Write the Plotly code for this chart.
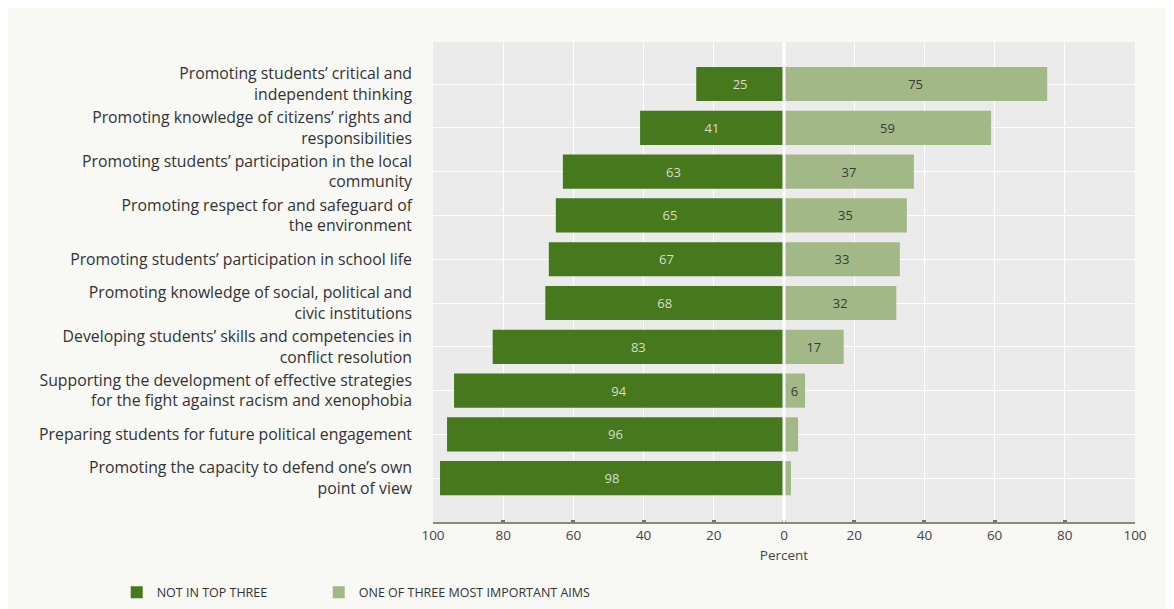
import plotly.graph_objects as go

categories = [
    "Promoting students’ critical and<br>independent thinking",
    "Promoting knowledge of citizens’ rights and<br>responsibilities",
    "Promoting students’ participation in the local<br>community",
    "Promoting respect for and safeguard of<br>the environment",
    "Promoting students’ participation in school life",
    "Promoting knowledge of social, political and<br>civic institutions",
    "Developing students’ skills and competencies in<br>conflict resolution",
    "Supporting the development of effective strategies<br>for the fight against racism and xenophobia",
    "Preparing students for future political engagement",
    "Promoting the capacity to defend one’s own<br>point of view",
]
not_top_three = [25, 41, 63, 65, 67, 68, 83, 94, 96, 98]
most_important = [75, 59, 37, 35, 33, 32, 17, 6, 4, 2]
tick_vals = [-100, -80, -60, -40, -20, 0, 20, 40, 60, 80, 100]
tick_text = ["100", "80", "60", "40", "20", "0", "20", "40", "60", "80", "100"]

DARK = "#46791e"
LIGHT = "#a2b886"
FONT = "Open Sans"

fig = go.Figure()
fig.add_trace(go.Bar(
    y=categories, x=[-v for v in not_top_three], orientation="h",
    name="NOT IN TOP THREE", marker=dict(color=DARK, line=dict(width=0)),
    text=[str(v) for v in not_top_three], textposition="inside",
    insidetextanchor="middle", textangle=0,
    textfont=dict(family=FONT, size=13, color="#d8dccb"),
    hoverinfo="skip", legend="legend",
))
fig.add_trace(go.Bar(
    y=categories, x=most_important, orientation="h",
    name="ONE OF THREE MOST IMPORTANT AIMS", marker=dict(color=LIGHT, line=dict(width=0)),
    text=[str(v) if v >= 6 else "" for v in most_important], textposition="inside",
    insidetextanchor="middle", textangle=0,
    textfont=dict(family=FONT, size=13, color="#3a3a3a"),
    hoverinfo="skip", legend="legend2",
))

fig.add_shape(type="line", xref="x", yref="paper", x0=0, x1=0, y0=0, y1=1,
              line=dict(color="white", width=3), layer="above")

leg_common = dict(orientation="h", yref="container", xref="container",
                  y=0.04, yanchor="middle", xanchor="left",
                  font=dict(family=FONT, size=12.5, color="#333333"),
                  bgcolor="rgba(0,0,0,0)")

fig.update_layout(
    width=1174, height=609,
    barmode="relative", bargap=0.22,
    paper_bgcolor="#f8f8f4", plot_bgcolor="#ebebeb",
    margin=dict(l=425, r=47, t=34, b=95, autoexpand=False),
    font=dict(family=FONT, color="#333333"),
    showlegend=True,
    legend=dict(x=0.0926, **leg_common),
    legend2=dict(x=0.2647, **leg_common),
)
fig.update_xaxes(
    range=[-100, 100], tickvals=tick_vals, ticktext=tick_text,
    showgrid=True, gridcolor="white", gridwidth=1, zeroline=False,
    showline=True, linecolor="#8f887c", linewidth=2,
    ticks="inside", ticklen=2, tickwidth=4, tickcolor="#77706a",
    tickfont=dict(family=FONT, size=13.5, color="#444444"),
    title=dict(text="Percent", font=dict(family=FONT, size=13.5, color="#444444"), standoff=7),
    fixedrange=True,
)
fig.update_yaxes(
    categoryorder="array", categoryarray=categories,
    range=[10.0, -0.96], showgrid=True, gridcolor="white", gridwidth=1,
    zeroline=False, showline=False, ticks="",
    ticklabelstandoff=20,
    tickfont=dict(family=FONT, size=15.8, color="#333333"),
    fixedrange=True,
)
fig.write_html("out.html")
